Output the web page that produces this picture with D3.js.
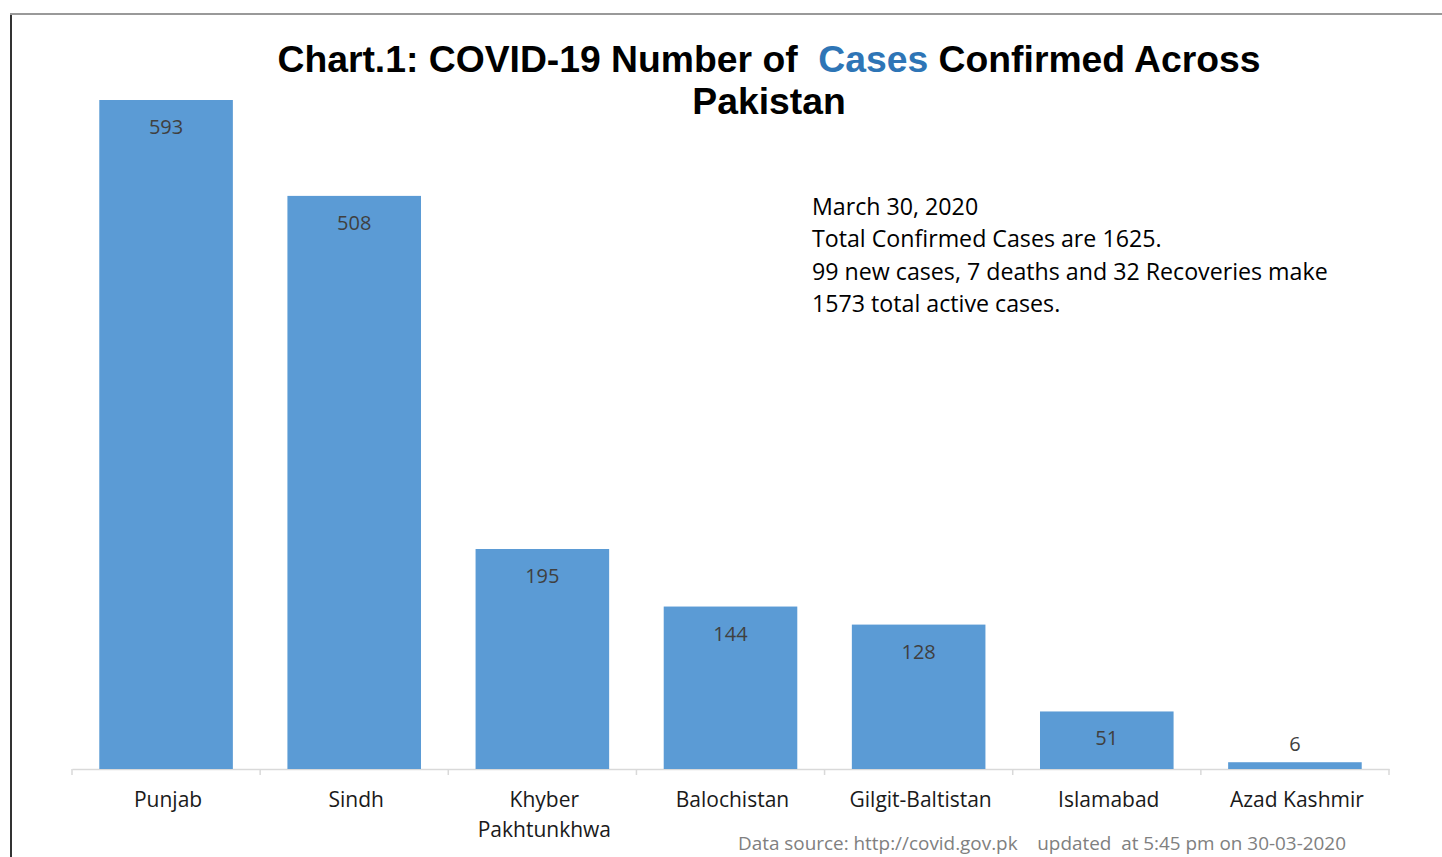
<!DOCTYPE html>
<html>
<head>
<meta charset="utf-8">
<script src="https://cdn.jsdelivr.net/npm/d3@7"></script>
<style>
  body { margin: 0; background: #fff; }
  text { font-family: "Open Sans", Lato, sans-serif; }
</style>
</head>
<body>
<div id="chart"></div>
<script>
// data
var provinces = ["Punjab", "Sindh", "Khyber Pakhtunkhwa", "Balochistan", "Gilgit-Baltistan", "Islamabad", "Azad Kashmir"];
var cases = [593, 508, 195, 144, 128, 51, 6];
var noteLines = [
  "March 30, 2020",
  "Total Confirmed Cases are 1625.",
  "99 new cases, 7 deaths and 32 Recoveries make",
  "1573 total active cases."
];
var sourceText = "Data source: http://covid.gov.pk    updated  at 5:45 pm on 30-03-2020";

var width = 1442;
var height = 857;

var svg = d3.select("#chart")
  .append("svg")
  .attr("width", width)
  .attr("height", height);

// frame around the chart (cut off on right and bottom)
svg.append("line")
  .attr("x1", 11).attr("x2", 11).attr("y1", 14).attr("y2", height)
  .attr("stroke", "#333").attr("stroke-width", 2);
svg.append("line")
  .attr("x1", 10).attr("x2", width).attr("y1", 14).attr("y2", 14)
  .attr("stroke", "#999").attr("stroke-width", 2);

var baseY = 769;

var xScale = d3.scaleBand()
  .domain(provinces)
  .range([72, 1389])
  .paddingInner(0.29)
  .paddingOuter(0.145);

var yScale = d3.scaleLinear()
  .domain([0, 593])
  .range([baseY, 100]);

// bottom axis with tick marks between categories
var xAxis = d3.axisBottom(xScale).tickSize(0).tickFormat("");
var axisG = svg.append("g")
  .attr("class", "xAxis")
  .attr("transform", "translate(0," + baseY + ")")
  .call(xAxis);
axisG.select(".domain").attr("stroke", "#d9d9d9").attr("stroke-width", 1.5);

var step = xScale.step();
var tickXs = d3.range(provinces.length + 1).map(function(i) {
  return xScale(provinces[0]) - xScale.paddingInner() * step / 2 + i * step;
});
axisG.selectAll(".sep")
  .data(tickXs)
  .enter()
  .append("line")
  .attr("x1", function(d) { return d; })
  .attr("x2", function(d) { return d; })
  .attr("y1", 0).attr("y2", 6)
  .attr("stroke", "#d9d9d9").attr("stroke-width", 1.5);

// bars
var data = provinces.map(function(p, i) { return { name: p, value: cases[i] }; });

svg.selectAll("rect.bar")
  .data(data)
  .enter()
  .append("rect")
  .attr("class", "bar")
  .attr("x", function(d) { return xScale(d.name); })
  .attr("y", function(d) { return yScale(d.value); })
  .attr("width", xScale.bandwidth())
  .attr("height", function(d) { return baseY - yScale(d.value); })
  .attr("fill", "#5b9bd5");

// value labels (inside end, or above if bar too short)
svg.selectAll("text.val")
  .data(data)
  .enter()
  .append("text")
  .attr("class", "val")
  .attr("x", function(d) { return xScale(d.name) + xScale.bandwidth() / 2; })
  .attr("y", function(d) {
    var h = baseY - yScale(d.value);
    return h < 40 ? yScale(d.value) - 11 : yScale(d.value) + 34;
  })
  .attr("text-anchor", "middle")
  .attr("font-size", 20)
  .attr("fill", "#404040")
  .text(function(d) { return d.value; });

// category labels
var catG = svg.selectAll("text.cat")
  .data(data)
  .enter()
  .append("text")
  .attr("class", "cat")
  .attr("x", function(d) { return xScale(d.name) + xScale.bandwidth() / 2 + 2; })
  .attr("y", 807)
  .attr("text-anchor", "middle")
  .attr("font-size", 21)
  .attr("fill", "#1a1a1a");

catG.each(function(d) {
  var words = d.name === "Khyber Pakhtunkhwa" ? ["Khyber", "Pakhtunkhwa"] : [d.name];
  var t = d3.select(this);
  words.forEach(function(w, i) {
    t.append("tspan")
      .attr("x", xScale(d.name) + xScale.bandwidth() / 2 + 2)
      .attr("dy", i === 0 ? 0 : 30)
      .text(w);
  });
});

// title
var title = svg.append("text")
  .attr("x", 769)
  .attr("y", 72)
  .attr("text-anchor", "middle")
  .attr("font-size", 37.3)
  .attr("font-weight", "bold")
  .style("font-family", "'Liberation Sans', Arial, sans-serif")
  .style("white-space", "pre")
  .attr("fill", "#000");
title.append("tspan").text("Chart.1: COVID-19 Number of  ");
title.append("tspan").attr("fill", "#2e75b6").text("Cases");
title.append("tspan").text(" Confirmed Across");

svg.append("text")
  .attr("x", 769)
  .attr("y", 114)
  .attr("text-anchor", "middle")
  .attr("font-size", 37.3)
  .attr("font-weight", "bold")
  .style("font-family", "'Liberation Sans', Arial, sans-serif")
  .attr("fill", "#000")
  .text("Pakistan");

// annotation
svg.selectAll("text.note")
  .data(noteLines)
  .enter()
  .append("text")
  .attr("class", "note")
  .attr("x", 812)
  .attr("y", function(d, i) { return 215 + i * 32.3; })
  .attr("font-size", 23.2)
  .attr("fill", "#000")
  .text(function(d) { return d; });

// source
svg.append("text")
  .attr("x", 738)
  .attr("y", 850)
  .attr("font-size", 18.9)
  .attr("fill", "#808080")
  .style("white-space", "pre")
  .text(sourceText);
</script>
</body>
</html>
